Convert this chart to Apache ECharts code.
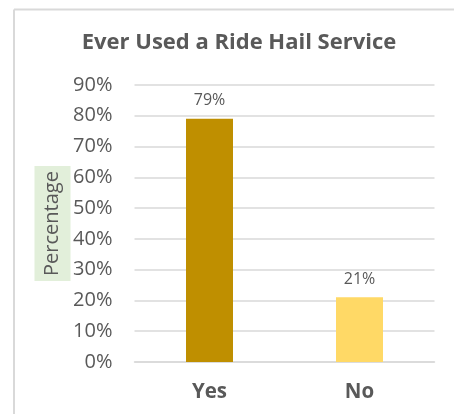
<!DOCTYPE html>
<html>
<head>
<meta charset="utf-8">
<script src="https://cdn.jsdelivr.net/npm/echarts@6/dist/echarts.min.js"></script>
<style>html,body{margin:0;padding:0;background:#fff}#c{width:454px;height:414px}</style>
</head>
<body>
<div id="c"></div>
<script>
var titleText = 'Ever Used a Ride Hail Service';
var categories = ['Yes', 'No'];
var values = [79, 21];
var barColors = ['#BF8F00', '#FFD966'];
var yTicks = [0, 10, 20, 30, 40, 50, 60, 70, 80, 90];
var yAxisName = 'Percentage';

var chart = echarts.init(document.getElementById('c'), null, {renderer: 'canvas'});
var FONT = 'Open Sans';
chart.setOption({
  animation: false,
  backgroundColor: '#fff',
  graphic: [
    {type: 'line', shape: {x1: 14, y1: 9.5, x2: 454, y2: 9.5}, style: {stroke: '#d9d9d9', lineWidth: 2}},
    {type: 'line', shape: {x1: 14, y1: 9.5, x2: 14, y2: 414}, style: {stroke: '#d9d9d9', lineWidth: 2}}
  ],
  title: {
    text: titleText,
    left: 234,
    top: 27,
    textAlign: 'center',
    textStyle: {fontFamily: FONT, fontSize: 22, fontWeight: 'bold', color: '#595959'}
  },
  grid: {left: 134.5, right: 19.5, top: 85, bottom: 52},
  xAxis: {
    type: 'category',
    data: categories,
    axisLine: {show: true, lineStyle: {color: '#d9d9d9', width: 1.5}},
    axisTick: {show: false},
    axisLabel: {margin: 20, fontFamily: FONT, fontSize: 20.5, fontWeight: 'bold', color: '#595959'}
  },
  yAxis: {
    type: 'value',
    min: yTicks[0],
    max: yTicks[yTicks.length - 1],
    interval: 10,
    name: yAxisName,
    nameLocation: 'middle',
    nameRotate: 90,
    nameGap: 64,
    nameMoveOverlap: false,
    nameTextStyle: {
      fontFamily: FONT, fontSize: 20, color: '#595959',
      backgroundColor: '#E2EFDA', padding: [8, 5, 8, 5]
    },
    axisLine: {show: false},
    axisTick: {show: false},
    splitLine: {lineStyle: {color: '#d9d9d9', width: 1.5}},
    axisLabel: {margin: 22, fontFamily: FONT, fontSize: 20, color: '#595959', formatter: '{value}%'}
  },
  series: [{
    type: 'bar',
    barWidth: 47,
    data: values.map(function (v, i) { return {value: v, itemStyle: {color: barColors[i]}}; }),
    label: {show: true, position: 'top', distance: 10, fontFamily: FONT, fontSize: 16, color: '#595959', formatter: '{c}%'}
  }]
});
</script>
</body>
</html>
